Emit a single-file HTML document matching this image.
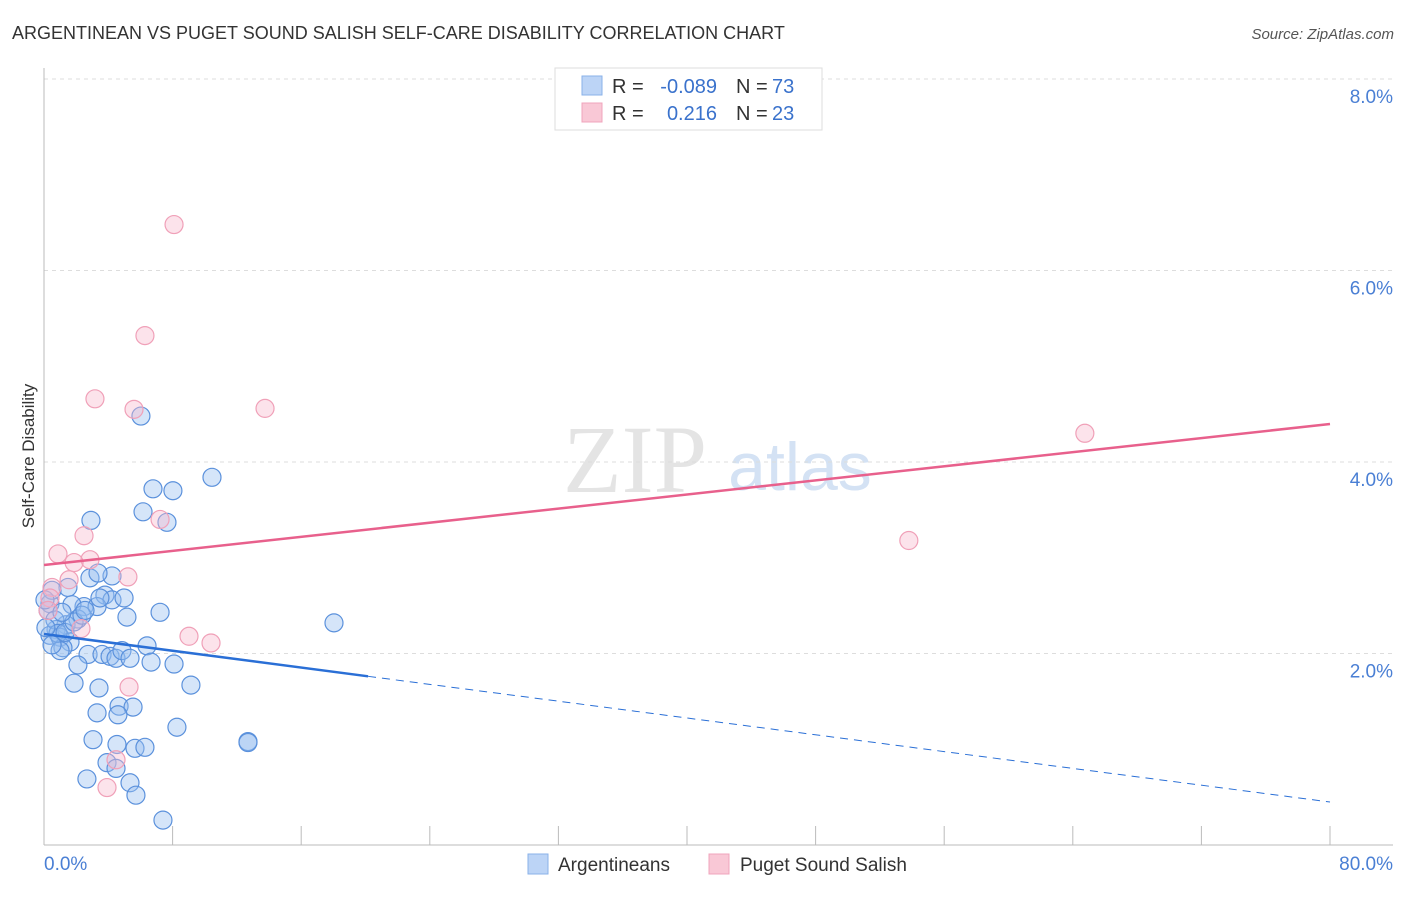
<!DOCTYPE html>
<html><head><meta charset="utf-8"><style>
body{margin:0;background:#fff;font-family:"Liberation Sans",sans-serif;}
</style></head><body>
<svg id="chart" width="1406" height="892" xmlns="http://www.w3.org/2000/svg" font-family="Liberation Sans, sans-serif">
<text x="12" y="39" font-size="18" fill="#333">ARGENTINEAN VS PUGET SOUND SALISH SELF-CARE DISABILITY CORRELATION CHART</text>
<text x="1394" y="39" font-size="15" fill="#555" font-style="italic" text-anchor="end">Source: ZipAtlas.com</text>
<g>
<text x="635" y="492" font-size="96" font-family="Liberation Serif, serif" fill="#e4e4e4" text-anchor="middle">ZIP</text>
<text x="800" y="490" font-size="68" fill="#d4e2f4" text-anchor="middle">atlas</text>
</g>
<g id="grid"></g>
<g id="axes"></g>
<g id="marks"></g>
<g id="trends"></g>
<text transform="translate(34,456) rotate(-90)" font-size="17" fill="#333" text-anchor="middle">Self-Care Disability</text>
<g>
<rect x="555" y="68" width="267" height="62" fill="#fff" stroke="#ddd"/>
<rect x="582" y="76" width="20" height="19" fill="#bcd4f6" stroke="#8ab2e8"/>
<rect x="582" y="103" width="20" height="19" fill="#f9c8d6" stroke="#f0a4bc"/>
<text x="612" y="93" font-size="20" fill="#333">R = </text><text x="717" y="93" font-size="20" fill="#3a72cc" text-anchor="end">-0.089</text>
<text x="736" y="93" font-size="20" fill="#333">N = </text><text x="772" y="93" font-size="20" fill="#3a72cc">73</text>
<text x="612" y="120" font-size="20" fill="#333">R = </text><text x="717" y="120" font-size="20" fill="#3a72cc" text-anchor="end">0.216</text>
<text x="736" y="120" font-size="20" fill="#333">N = </text><text x="772" y="120" font-size="20" fill="#3a72cc">23</text>
</g>
<g>
<rect x="528" y="854" width="20" height="20" fill="#bcd4f6" stroke="#8ab2e8"/>
<text x="558" y="871" font-size="19" fill="#333">Argentineans</text>
<rect x="709" y="854" width="20" height="20" fill="#f9c8d6" stroke="#f0a4bc"/>
<text x="740" y="871" font-size="19" fill="#333">Puget Sound Salish</text>
</g>
</svg>
<script>
const yTicks=[2,4,6,8];
const yTickLabels=["2.0%","4.0%","6.0%","8.0%"];
const xTickVals=[0,8,16,24,32,40,48,56,64,72,80];
const xEndLabels=["0.0%","80.0%"];
const blueX=[6.03,10.45,6.78,8.02,6.16,7.65,2.92,2.86,4.23,3.36,1.49,3.79,4.23,2.49,3.30,1.74,0.37,7.22,5.16,2.11,1.37,0.75,0.37,1.00,1.62,1.18,1.00,2.74,3.61,4.11,4.48,4.85,5.35,6.41,6.66,8.09,18.04,2.11,1.87,3.42,9.14,3.30,4.67,5.54,4.60,8.27,3.05,4.54,5.66,6.28,12.69,12.69,3.92,4.48,2.67,5.35,5.72,7.40,0.50,0.25,0.68,0.06,0.87,1.31,1.87,2.36,0.12,0.50,2.55,3.48,1.12,4.98];
const blueY=[4.48,3.84,3.72,3.70,3.48,3.37,3.39,2.79,2.81,2.84,2.69,2.61,2.56,2.49,2.49,2.51,2.52,2.43,2.38,2.36,2.30,2.25,2.19,2.17,2.12,2.06,2.03,1.99,1.99,1.97,1.95,2.03,1.95,2.08,1.91,1.89,2.32,1.88,1.69,1.64,1.67,1.38,1.45,1.44,1.36,1.23,1.10,1.05,1.01,1.02,1.08,1.07,0.86,0.80,0.69,0.65,0.52,0.26,2.66,2.45,2.35,2.56,2.21,2.22,2.33,2.40,2.27,2.09,2.45,2.58,2.43,2.58];
const pinkX=[8.09,6.28,3.17,5.60,13.75,64.75,7.22,2.49,0.87,2.86,1.87,1.56,5.22,0.50,53.80,9.02,10.39,2.30,5.29,3.92,4.48,0.37,0.25];
const pinkY=[6.48,5.32,4.66,4.55,4.56,4.30,3.40,3.23,3.04,2.98,2.95,2.77,2.80,2.69,3.18,2.18,2.11,2.26,1.65,0.60,0.89,2.58,2.45];
const pinkTrend=[2.924,4.397];
const blueTrend=[2.204,0.449];
const blueSolidEnd=20.16;
const NS="http://www.w3.org/2000/svg";
const X=v=>44+v/80*1286, Y=v=>845-v/2*191.5;
function el(t,a,p){const e=document.createElementNS(NS,t);for(const k in a)e.setAttribute(k,a[k]);document.getElementById(p).appendChild(e);return e;}
yTicks.forEach((t,i)=>{
 const g=el('line',{x1:44,x2:1393,y1:Y(t),y2:Y(t),stroke:'#ddd','stroke-dasharray':'4,4'},'grid');
 
 
 const l=el('text',{x:1393,y:Y(t)+24,'font-size':19,fill:'#4a7fd4','text-anchor':'end'},'axes');
 l.textContent=yTickLabels[i];
 
 
});
const ax=el('line',{x1:44,x2:44,y1:68,y2:845,stroke:'#bbb'},'axes');


const bx=el('line',{x1:44,x2:1393,y1:845,y2:845,stroke:'#bbb'},'axes');


xTickVals.forEach(v=>{
 const t=el('line',{x1:X(v),x2:X(v),y1:826,y2:845,stroke:'#bbb'},'axes');
 
 
});
[0,80].forEach((v,i)=>{
 const t=el('text',{x:i?1393:44,y:870,'font-size':19,fill:'#4a7fd4','text-anchor':i?'end':'start'},'axes');
 t.textContent=xEndLabels[i];
 
 
});
blueX.forEach((v,i)=>{
 const c=el('circle',{cx:X(v),cy:Y(blueY[i]),r:9,fill:'rgba(150,190,240,0.4)',stroke:'#5b91dc','stroke-width':1.2},'marks');
 
 
});
pinkX.forEach((v,i)=>{
 const c=el('circle',{cx:X(v),cy:Y(pinkY[i]),r:9,fill:'rgba(248,185,205,0.4)',stroke:'#f0a0b8','stroke-width':1.2},'marks');
 
 
});
const pl=el('line',{x1:X(0),y1:Y(pinkTrend[0]),x2:X(80),y2:Y(pinkTrend[1]),stroke:'#e8608c','stroke-width':2.5},'trends');


const bm=v=>blueTrend[0]+(blueTrend[1]-blueTrend[0])*v/80;
const bl=el('line',{x1:X(0),y1:Y(blueTrend[0]),x2:X(blueSolidEnd),y2:Y(bm(blueSolidEnd)),stroke:'#2a6fd6','stroke-width':2.5},'trends');


const bd=el('line',{x1:X(blueSolidEnd),y1:Y(bm(blueSolidEnd)),x2:X(80),y2:Y(blueTrend[1]),stroke:'#2a6fd6','stroke-width':1,'stroke-dasharray':'8,6'},'trends');


</script>
</body></html>
